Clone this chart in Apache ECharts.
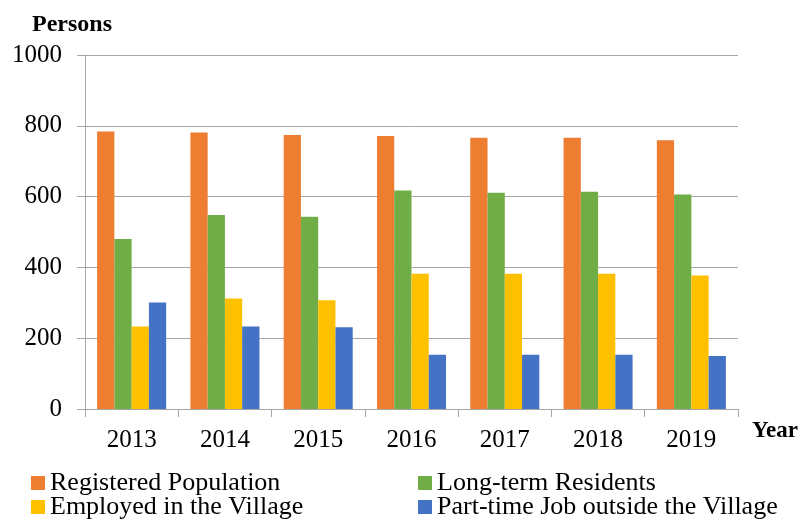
<!DOCTYPE html>
<html>
<head>
<meta charset="utf-8">
<script src="https://cdn.jsdelivr.net/npm/echarts@6/dist/echarts.min.js"></script>
<style>
  html, body { margin: 0; padding: 0; background: #fff; }
  #chart { width: 802px; height: 524px; }
</style>
</head>
<body>
<div id="chart"></div>
<script>
// Village population by year
const years = ['2013', '2014', '2015', '2016', '2017', '2018', '2019'];
const registeredPopulation = [784, 781, 774, 771, 766, 766, 759];
const longTermResidents = [480, 548, 543, 617, 611, 614, 606];
const employedInVillage = [233, 312, 307, 382, 382, 382, 377];
const partTimeOutside = [301, 233, 231, 153, 153, 153, 150];
const seriesNames = [
  'Registered Population',
  'Long-term Residents',
  'Employed in the Village',
  'Part-time Job outside the Village'
];
const seriesColors = ['#ED7D31', '#70AD47', '#FFC000', '#4472C4'];

const serif = '"Liberation Serif", "Times New Roman", serif';
const seriesData = [registeredPopulation, longTermResidents, employedInVillage, partTimeOutside];

// one legend block per series so the entries sit in a two-column layout
const legendPos = [
  { left: 31, top: 470 },
  { left: 418, top: 470 },
  { left: 31, top: 494 },
  { left: 418, top: 494 }
];

const chart = echarts.init(document.getElementById('chart'), null, { renderer: 'canvas' });
chart.setOption({
  backgroundColor: '#fff',
  animation: false,
  textStyle: { fontFamily: serif },
  grid: { left: 85, right: 64, top: 55, bottom: 115 },
  legend: seriesNames.map((name, i) => ({
    data: [name],
    left: legendPos[i].left,
    top: legendPos[i].top,
    icon: 'rect',
    itemWidth: 14,
    itemHeight: 14,
    itemGap: 4,
    padding: 0,
    textStyle: { fontFamily: serif, fontSize: 26, color: '#000' }
  })),
  xAxis: {
    type: 'category',
    data: years,
    name: 'Year',
    nameLocation: 'end',
    nameGap: 14,
    nameTextStyle: {
      fontFamily: serif, fontSize: 23, fontWeight: 'bold', color: '#000',
      verticalAlign: 'top', padding: [11, 0, 0, 0]
    },
    axisLine: { lineStyle: { color: '#a6a6a6', width: 1 } },
    axisTick: { show: true, length: 8, lineStyle: { color: '#a6a6a6' } },
    axisLabel: { fontFamily: serif, fontSize: 25, color: '#000', margin: 19 }
  },
  yAxis: {
    type: 'value',
    min: 0,
    max: 1000,
    interval: 200,
    name: 'Persons',
    nameLocation: 'end',
    nameGap: 18,
    nameTextStyle: {
      fontFamily: serif, fontSize: 24, fontWeight: 'bold', color: '#000',
      align: 'center', padding: [0, 26, 0, 0]
    },
    axisLine: { show: true, lineStyle: { color: '#a6a6a6', width: 1 } },
    axisTick: { show: true, length: 8, lineStyle: { color: '#a6a6a6' } },
    axisLabel: {
      fontFamily: serif, fontSize: 25, color: '#000', margin: 23,
      formatter: (v) => String(v)
    },
    splitLine: { lineStyle: { color: '#a6a6a6', width: 1 } }
  },
  series: seriesNames.map((name, i) => ({
    name: name,
    type: 'bar',
    data: seriesData[i],
    barGap: '0%',
    barCategoryGap: '26%',
    itemStyle: { color: seriesColors[i] }
  }))
});
</script>
</body>
</html>
